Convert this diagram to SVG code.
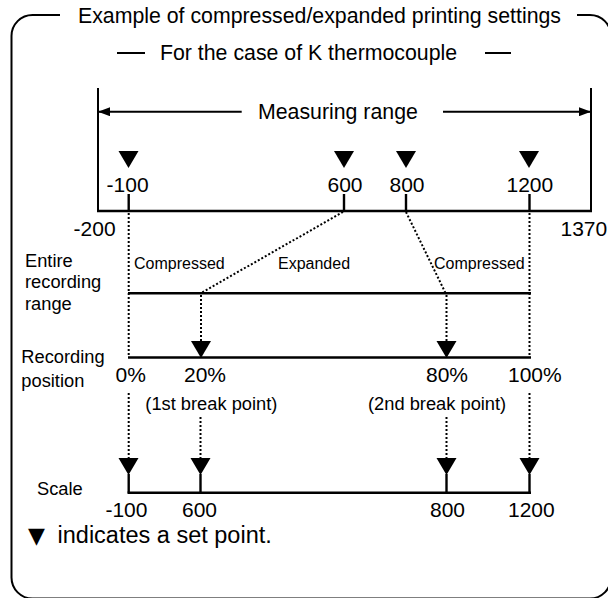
<svg xmlns="http://www.w3.org/2000/svg" width="608" height="598" viewBox="0 0 608 598">
<style>
text{font-family:"Liberation Sans",Arial,Helvetica,sans-serif;fill:#000}
.big{font-size:21.3px}
.num{font-size:21px}
.lab{font-size:18.3px}
.sm{font-size:16px}
.solid{stroke:#000;stroke-width:2.4;fill:none}
.thin{stroke:#000;stroke-width:2;fill:none}
.dot{stroke:#000;stroke-width:2;fill:none;stroke-dasharray:2 2}
</style>
<defs>
<path id="tri" d="M-10,0 L10,0 L0,17 Z" fill="#000"/>
<marker id="ah" viewBox="0 0 12 9" refX="12" refY="4.5" markerWidth="12" markerHeight="9" markerUnits="userSpaceOnUse" orient="auto-start-reverse">
<path d="M0,0 L12,4.5 L0,9 Z" fill="#000"/>
</marker>
</defs>

<g id="frame">
<path class="thin" d="M60,15 H32.5 A21,21 0 0 0 11.5,36 V577.5 A21,21 0 0 0 32.5,598.5 H590 A21,21 0 0 0 611,577.5 V36 A21,21 0 0 0 590,15 H577"/>
<text id="title" class="big" x="78" y="22.5">Example of compressed/expanded printing settings</text>
</g>

<g id="subtitle">
<line class="thin" x1="117" y1="53" x2="145" y2="53"/>
<text class="big" x="160" y="59.5">For the case of K thermocouple</text>
<line class="thin" x1="485" y1="53" x2="511" y2="53"/>
</g>

<g id="measuring-range">
<line class="thin" x1="98" y1="88" x2="98" y2="211"/>
<line class="thin" x1="591" y1="88" x2="591" y2="211"/>
<text class="big" x="258" y="118.5">Measuring range</text>
</g>

<g id="measuring-axis">
<line class="solid" x1="97" y1="211" x2="592" y2="211"/>
<line class="solid" x1="128.7" y1="194" x2="128.7" y2="211"/>
<line class="solid" x1="344" y1="194" x2="344" y2="211"/>
<line class="solid" x1="406" y1="194" x2="406" y2="211"/>
<line class="solid" x1="529.5" y1="194" x2="529.5" y2="211"/>
<use href="#tri" x="128.5" y="151"/>
<use href="#tri" x="344" y="151"/>
<use href="#tri" x="406" y="151"/>
<use href="#tri" x="529" y="151"/>
<text class="num" x="106.6" y="191.5">-100</text>
<text class="num" x="327.5" y="191.5">600</text>
<text class="num" x="389.5" y="191.5">800</text>
<text class="num" x="506.5" y="191.5">1200</text>
<text class="num" x="73.6" y="235.5">-200</text>
<text class="num" x="560.5" y="235.5">1370</text>
</g>

<g id="entire-range">
<text class="lab" x="25" y="267">Entire</text>
<text class="lab" x="25" y="288">recording</text>
<text class="lab" x="25" y="310">range</text>
<line class="solid" x1="128" y1="293.3" x2="531" y2="293.3"/>
<text class="sm" x="134" y="269">Compressed</text>
<text class="sm" x="278" y="269">Expanded</text>
<text class="sm" x="434" y="269">Compressed</text>
</g>

<g id="recording-position">
<text class="lab" x="21.3" y="363">Recording</text>
<text class="lab" x="21.3" y="386.5">position</text>
<line class="solid" x1="128" y1="357.5" x2="531" y2="357.5"/>
<use href="#tri" x="201" y="341"/>
<use href="#tri" x="446.5" y="341"/>
<text class="num" x="115.5" y="382">0%</text>
<text class="num" x="184" y="382">20%</text>
<text class="num" x="426" y="382">80%</text>
<text class="num" x="508" y="382">100%</text>
<text class="lab" x="145.3" y="410">(1st break point)</text>
<text class="lab" x="368" y="410">(2nd break point)</text>
</g>

<g id="scale">
<text class="lab" x="37" y="495">Scale</text>
<line class="solid" x1="127.5" y1="492.7" x2="531" y2="492.7"/>
<line class="solid" x1="128.7" y1="474" x2="128.7" y2="492.7"/>
<line class="solid" x1="200.5" y1="474" x2="200.5" y2="492.7"/>
<line class="solid" x1="446.5" y1="474" x2="446.5" y2="492.7"/>
<line class="solid" x1="529.5" y1="474" x2="529.5" y2="492.7"/>
<use href="#tri" x="128.5" y="458"/>
<use href="#tri" x="200.5" y="458"/>
<use href="#tri" x="446.5" y="458"/>
<use href="#tri" x="529.5" y="458"/>
<text class="num" x="105.4" y="516.5">-100</text>
<text class="num" x="182" y="516.5">600</text>
<text class="num" x="430" y="516.5">800</text>
<text class="num" x="508" y="516.5">1200</text>
</g>

<g id="note">
<text x="28" y="543" style="font-size:23.5px"><tspan style="font-family:'DejaVu Sans',sans-serif;font-size:22px">▼</tspan><tspan x="51"> indicates a set point.</tspan></text>
</g>

<g id="connectors">
<line class="thin" x1="98" y1="111.7" x2="241.7" y2="111.7" marker-start="url(#ah)"/>
<line class="thin" x1="443" y1="111.7" x2="591" y2="111.7" marker-end="url(#ah)"/>
<line class="dot" x1="128.7" y1="213" x2="128.7" y2="356"/>
<line class="dot" x1="529.5" y1="213" x2="529.5" y2="356"/>
<line class="dot" x1="343" y1="212" x2="201" y2="293"/>
<line class="dot" x1="406" y1="212" x2="445.5" y2="293"/>
<line class="dot" x1="201" y1="295" x2="201" y2="341"/>
<line class="dot" x1="446.5" y1="295" x2="446.5" y2="341"/>
<line class="dot" x1="128.7" y1="393" x2="128.7" y2="458"/>
<line class="dot" x1="529.5" y1="393" x2="529.5" y2="458"/>
<line class="dot" x1="200.5" y1="417" x2="200.5" y2="458"/>
<line class="dot" x1="446.5" y1="417" x2="446.5" y2="458"/>
</g>
</svg>
